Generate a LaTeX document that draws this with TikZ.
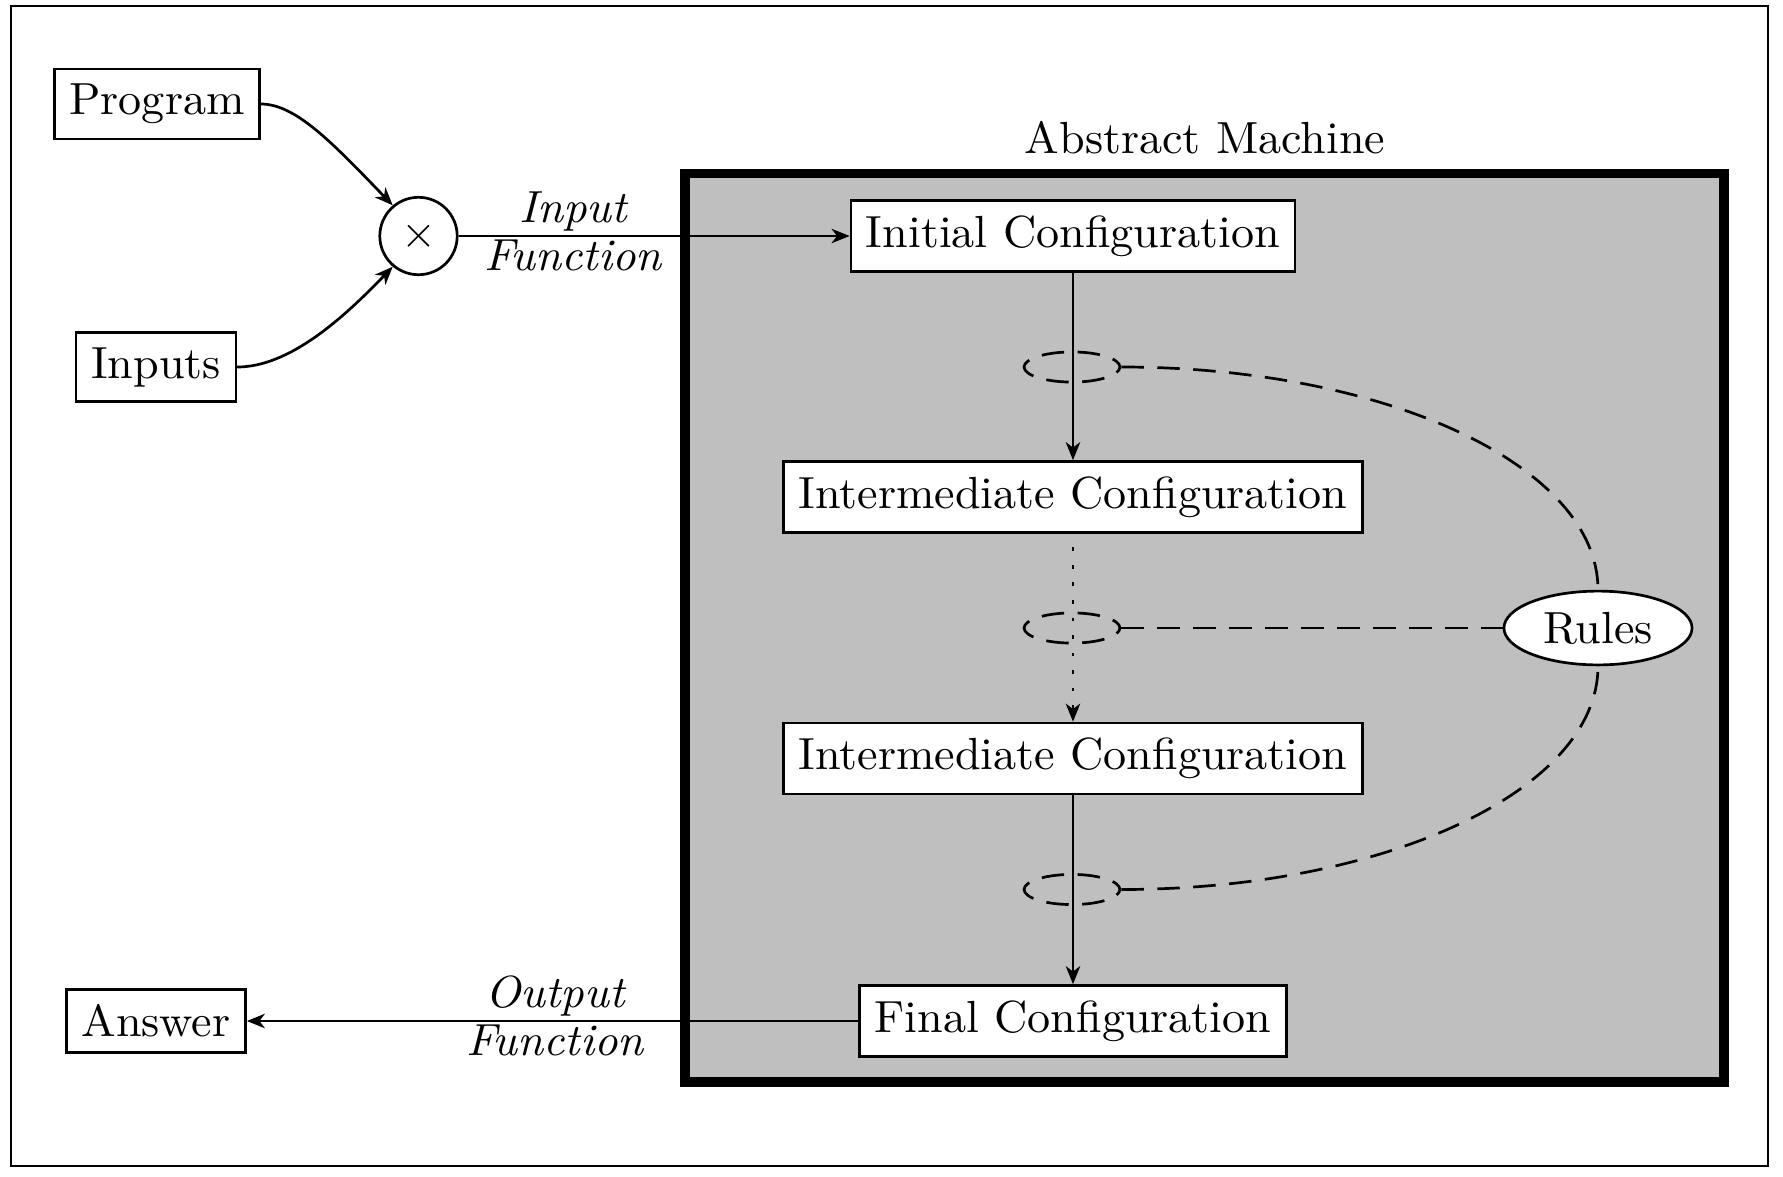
\documentclass[tikz,border=0pt]{standalone}
\usepackage{fontspec}
\setmainfont{Latin Modern Roman}[FakeStretch=1.025]
\usetikzlibrary{shapes.geometric,arrows.meta}
\begin{document}
\begin{tikzpicture}[x=0.22222pt,y=-0.22222pt,
  box/.style={draw,fill=white,line width=0.6pt},
  conn/.style={line width=0.6pt},
  arr/.style={conn,-{Stealth[length=4pt,width=3.2pt,inset=1.2pt]}},
  longdash/.style={dash pattern=on 5pt off 3pt},
  ring/.style={ellipse,draw,line width=0.6pt,dash pattern=on 5pt off 3pt,dash phase=2.5pt,minimum width=21.3pt,minimum height=6.7pt,inner sep=0pt},
  lbl/.style={align=center,font=\itshape}]
\useasboundingbox (0,0) rectangle (1783,1177);
\draw[line width=0.5pt] (11,6) rectangle (1768,1166);
% abstract machine
\node[draw,fill=lightgray,line width=2.2pt,inner sep=0pt,minimum width=230.9pt,minimum height=201.9pt] (machine) at (1204.5,627.75) {};
\node[anchor=base] (mlabel) at (1205,153) {Abstract Machine};
% left nodes
\node[box] (prog) at (157,104) {Program};
\node[box] (inp) at (156,367) {Inputs};
\node[circle,draw,line width=0.6pt,inner sep=0pt,minimum size=17.2pt] (cross) at (418.5,236) {$\times$};
\node[box] (ans) at (156,1021) {Answer};
% configurations
\node[box] (init) at (1073,236) {Initial Configuration};
\node[box] (im1) at (1073,497) {Intermediate Configuration};
\node[box] (im2) at (1073,758.5) {Intermediate Configuration};
\node[box] (fin) at (1073,1021) {Final Configuration};
% rings and rules
\node[ring] (e1) at (1072,367) {};
\node[ring] (e2) at (1072,628) {};
\node[ring] (e3) at (1072,889.5) {};
\node[ellipse,draw,fill=white,line width=0.6pt,inner sep=0pt,minimum width=41.8pt,minimum height=16.4pt] (rules) at (1598,628) {Rules};
% connectors
\draw[arr] (prog.east) .. controls +(35,0) and +(-60,-62) .. (cross.130);
\draw[arr] (inp.east) .. controls +(52,0) and +(-50,52) .. (cross.230);
\draw[arr] (cross) -- (init);
\node[lbl] (inlbl) at (573,231) {Input\\[-1.3pt]Function};
\draw[arr] (fin) -- (ans);
\node[lbl] (outlbl) at (555,1016) {Output\\[-1.3pt]Function};
\draw[arr] (init) -- (im1);
\draw[arr,dash pattern=on 0.8pt off 3.1pt,dash phase=-3pt] (im1) -- (im2);
\draw[arr] (im2) -- (fin);
\draw[conn,longdash] (e1.east) .. controls +(264,0) and +(0,-124) .. (rules.north);
\draw[conn,longdash] (e2.east) -- (rules.west);
\draw[conn,longdash] (e3.east) .. controls +(264,0) and +(0,124) .. (rules.south);
\end{tikzpicture}
\end{document}
